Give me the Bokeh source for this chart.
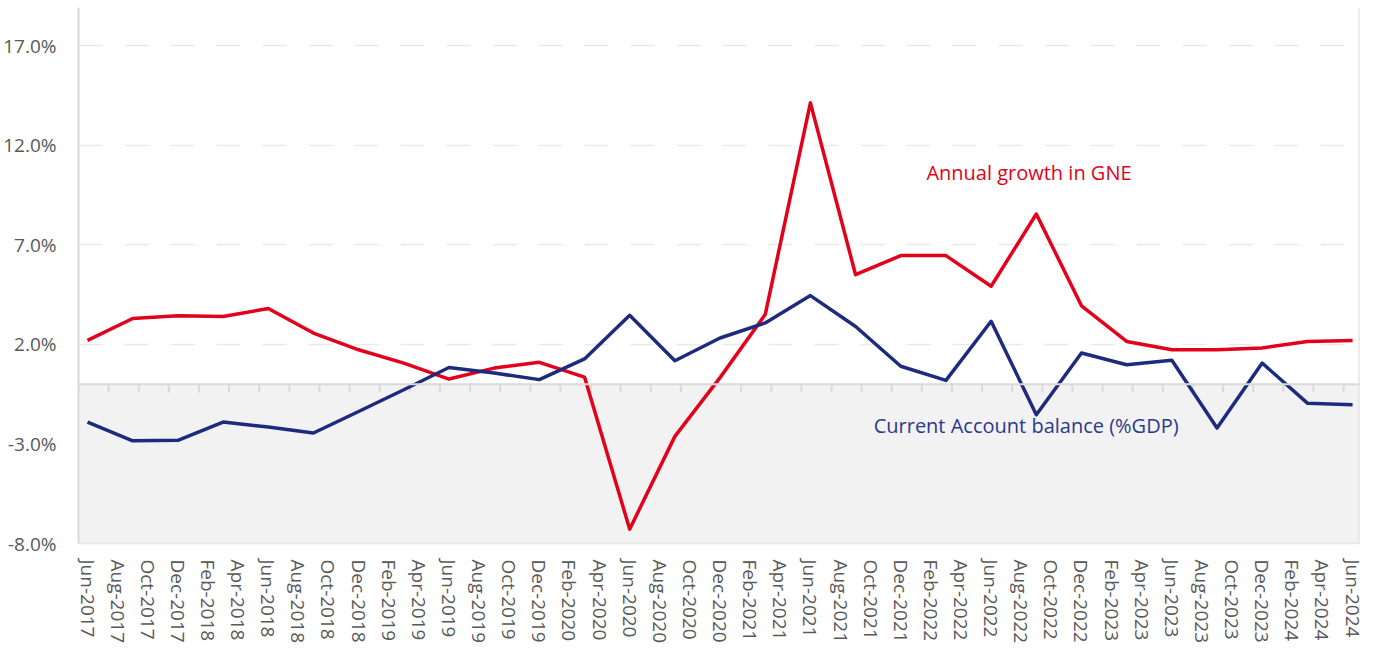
from bokeh.plotting import figure
from bokeh.models import (FixedTicker, PrintfTickFormatter, BoxAnnotation, Span, Label,
                          ColumnDataSource, Range1d)
from bokeh.embed import file_html
from bokeh.resources import INLINE

# ---------------- data ----------------
tick_labels = ["Jun-2017", "Aug-2017", "Oct-2017", "Dec-2017", "Feb-2018", "Apr-2018",
               "Jun-2018", "Aug-2018", "Oct-2018", "Dec-2018", "Feb-2019", "Apr-2019",
               "Jun-2019", "Aug-2019", "Oct-2019", "Dec-2019", "Feb-2020", "Apr-2020",
               "Jun-2020", "Aug-2020", "Oct-2020", "Dec-2020", "Feb-2021", "Apr-2021",
               "Jun-2021", "Aug-2021", "Oct-2021", "Dec-2021", "Feb-2022", "Apr-2022",
               "Jun-2022", "Aug-2022", "Oct-2022", "Dec-2022", "Feb-2023", "Apr-2023",
               "Jun-2023", "Aug-2023", "Oct-2023", "Dec-2023", "Feb-2024", "Apr-2024",
               "Jun-2024"]

quarters = ["Jun-2017", "Sep-2017", "Dec-2017", "Mar-2018", "Jun-2018", "Sep-2018",
            "Dec-2018", "Mar-2019", "Jun-2019", "Sep-2019", "Dec-2019", "Mar-2020",
            "Jun-2020", "Sep-2020", "Dec-2020", "Mar-2021", "Jun-2021", "Sep-2021",
            "Dec-2021", "Mar-2022", "Jun-2022", "Sep-2022", "Dec-2022", "Mar-2023",
            "Jun-2023", "Sep-2023", "Dec-2023", "Mar-2024", "Jun-2024"]

gne_growth = [2.2, 3.3, 3.44, 3.4, 3.8, 2.57, 1.73, 1.06, 0.26, 0.81, 1.1, 0.36,
              -7.28, -2.62, 0.33, 3.5, 14.13, 5.5, 6.46, 6.46, 4.92, 8.55, 3.94,
              2.15, 1.73, 1.73, 1.82, 2.15, 2.2]

current_account = [-1.9, -2.84, -2.82, -1.9, -2.15, -2.45, -1.37, -0.28, 0.84, 0.56,
                   0.23, 1.27, 3.46, 1.18, 2.32, 3.08, 4.45, 2.9, 0.9, 0.19, 3.16,
                   -1.53, 1.57, 0.98, 1.2, -2.2, 1.06, -0.95, -1.03]

y_ticks = [-8, -3, 2, 7, 12, 17]

# ---------------- helpers ----------------
MONTHS = {"Jan": 1, "Feb": 2, "Mar": 3, "Apr": 4, "May": 5, "Jun": 6, "Jul": 7,
          "Aug": 8, "Sep": 9, "Oct": 10, "Nov": 11, "Dec": 12}


def month_index(s):
    mon, yr = s.split("-")
    return (int(yr) - 2017) * 12 + MONTHS[mon] - 6


qx = [month_index(q) for q in quarters]
tx = [month_index(t) for t in tick_labels]

RED = "#E3001B"
BLUE = "#1E2A7E"
GREY_TXT = "#595959"
FONT = "Open Sans"

p = figure(width=1366, height=646, output_backend="svg", toolbar_location=None,
           x_range=Range1d(-0.6, 84.46), y_range=Range1d(-8, 18.92),
           min_border_left=0, min_border_right=7, min_border_top=7, min_border_bottom=0)
p.outline_line_color = None
p.background_fill_color = "white"

# shaded negative region
p.add_layout(BoxAnnotation(top=0, fill_color="#f2f2f2", fill_alpha=1.0, line_color=None,
                           level="underlay"))

# grid
p.xgrid.grid_line_color = None
p.ygrid.ticker = FixedTicker(ticks=y_ticks)
p.ygrid.grid_line_color = "#e9e9e9"
p.ygrid.grid_line_width = 1.5
p.ygrid.grid_line_dash = "24 22"

# y axis
p.yaxis.ticker = FixedTicker(ticks=y_ticks)
p.yaxis.formatter = PrintfTickFormatter(format="%.1f%%")
p.yaxis.axis_line_color = "#d9d9d9"
p.yaxis.axis_line_width = 2
p.yaxis.major_tick_line_color = None
p.yaxis.minor_tick_line_color = None
p.yaxis.major_label_text_font = FONT
p.yaxis.major_label_text_font_size = "19px"
p.yaxis.major_label_text_color = GREY_TXT
p.yaxis.major_label_standoff = 16

# x axis (labels at bottom)
p.xaxis.ticker = FixedTicker(ticks=tx)
p.xaxis.major_label_overrides = {m: lab for m, lab in zip(tx, tick_labels)}
p.xaxis.major_label_orientation = "vertical"
p.xaxis.axis_line_color = "#e6e6e6"
p.xaxis.axis_line_width = 1.5
p.xaxis.major_tick_line_color = None
p.xaxis.minor_tick_line_color = None
p.xaxis.major_label_text_font = FONT
p.xaxis.major_label_text_font_size = "19px"
p.xaxis.major_label_text_color = GREY_TXT
p.xaxis.major_label_standoff = 10

# right border
p.add_layout(Span(location=84.46, dimension="height", line_color="#d9d9d9", line_width=2))

# zero line with tick marks
p.add_layout(Span(location=0, dimension="width", line_color="#d9d9d9", line_width=2))
tick_src = ColumnDataSource(dict(x=[m - 0.6 for m in tx], y0=[0] * len(tx),
                                 y1=[-0.4] * len(tx)))
p.segment(x0="x", y0="y0", x1="x", y1="y1", source=tick_src, line_color="#d9d9d9",
          line_width=2)

# series
src = ColumnDataSource(dict(x=qx, gne=gne_growth, ca=current_account))
p.line("x", "gne", source=src, line_color=RED, line_width=3.5, line_join="round")
p.line("x", "ca", source=src, line_color=BLUE, line_width=3.5, line_join="round")

# annotations
p.add_layout(Label(x=55.7, y=10.63, text="Annual growth in GNE", text_color=RED,
                   text_font=FONT, text_font_size="20px", text_baseline="alphabetic"))
p.add_layout(Label(x=52.2, y=-2.09, text="Current Account balance (%GDP)",
                   text_color="#2B3990", text_font=FONT, text_font_size="20px",
                   text_baseline="alphabetic"))

open("out.html", "w").write(file_html(p, INLINE))
